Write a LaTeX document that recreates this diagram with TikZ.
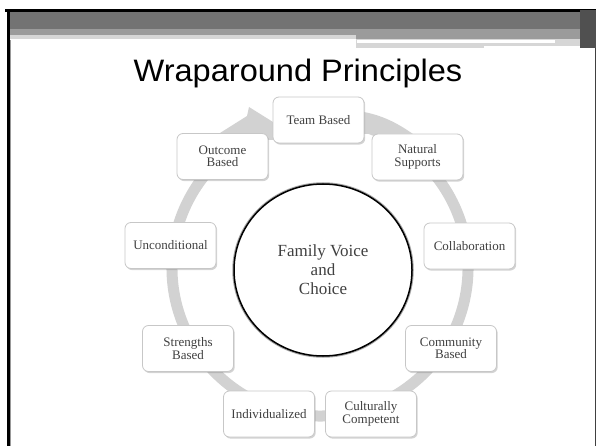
\documentclass[tikz,border=0pt]{standalone}
\usepackage{fontspec}
\setmainfont{Liberation Serif}
\newfontfamily\titlefont{Liberation Sans}
\usetikzlibrary{shapes.geometric,shadows}
\definecolor{ringc}{RGB}{210,210,210}
\definecolor{hdark}{RGB}{115,115,115}
\definecolor{hmid}{RGB}{155,155,155}
\definecolor{hlight}{RGB}{214,214,214}
\definecolor{htex}{RGB}{80,80,80}
\definecolor{txtc}{RGB}{64,64,64}
\begin{document}
\begin{tikzpicture}[x=1pt,y=-1pt,
  pbox/.style={draw=black!22, fill=white, rounded corners=6pt, line width=0.8pt,
    minimum width=91pt, minimum height=46pt, inner sep=1pt, align=center,
    font=\fontsize{13}{12.5}\selectfont, text=txtc,
    drop shadow={shadow xshift=1.2pt, shadow yshift=-1.6pt, opacity=0.35}},
  ringline/.style={draw=ringc, line width=11pt},
  ringfill/.style={fill=ringc}
]
\useasboundingbox (0,0) rectangle (596,446);
% header bands
\fill[black] (5,9) rectangle (596,12);
\fill[hdark] (8,12) rectangle (580,29);
\fill[hmid] (8,29) rectangle (580,35);
\fill[hlight] (8,35) rectangle (356,39);
\fill[hmid] (356,35) rectangle (580,39);
\fill[hlight] (356,39) rectangle (580,48);
\fill[white] (357,40.5) rectangle (555,43);
\fill[white] (484,46) rectangle (580,48);
\fill[htex] (580,10) rectangle (596,48);
% frame
\fill[black] (6.5,9) rectangle (9.5,446);
\fill[black!40] (9.5,40) rectangle (10.2,446);
\fill[black!75] (594.5,48) rectangle (595.7,446);
% title
\node[font=\titlefont\fontsize{31}{31}\selectfont, anchor=base, inner sep=0pt] (title) at (298,82) {\scalebox{1.05}[1]{Wraparound Principles}};
% ring
\draw[ringline] ([shift={(320,268)}]-80:148) arc[start angle=-80, end angle=240, radius=148];
\fill[ringfill] (220,133) -- (247,116) -- (249,107) -- (273,122) -- (273,140) -- (225,140) -- cycle;
\fill[ringfill] (364,112) .. controls (385,116) and (400,125) .. (413,134) -- (364,134) -- cycle;
% boxes
\node[pbox] (team) at (318.5,120) {Team Based};
\node[pbox] (natural) at (417.5,157) {Natural\\Supports};
\node[pbox] (collab) at (469.5,246) {Collaboration};
\node[pbox] (community) at (451,348.5) {Community\\Based};
\node[pbox] (cultural) at (371,414) {Culturally\\Competent};
\node[pbox] (indiv) at (269,414) {Individualized};
\node[pbox] (strengths) at (188,348.5) {Strengths\\Based};
\node[pbox] (uncond) at (170.5,245.5) {Unconditional};
\node[pbox] (outcome) at (222.5,156.5) {Outcome\\Based};
% centre circle
\node[ellipse, minimum width=178pt, minimum height=172pt, inner sep=0pt,
  draw=black, line width=1.5pt, fill=white,
  preaction={draw=black!35, line width=3.5pt},
  align=center, font=\fontsize{17}{19}\selectfont, text=txtc] (fvc) at (323,270) {Family Voice\\and\\Choice};
\end{tikzpicture}
\end{document}
